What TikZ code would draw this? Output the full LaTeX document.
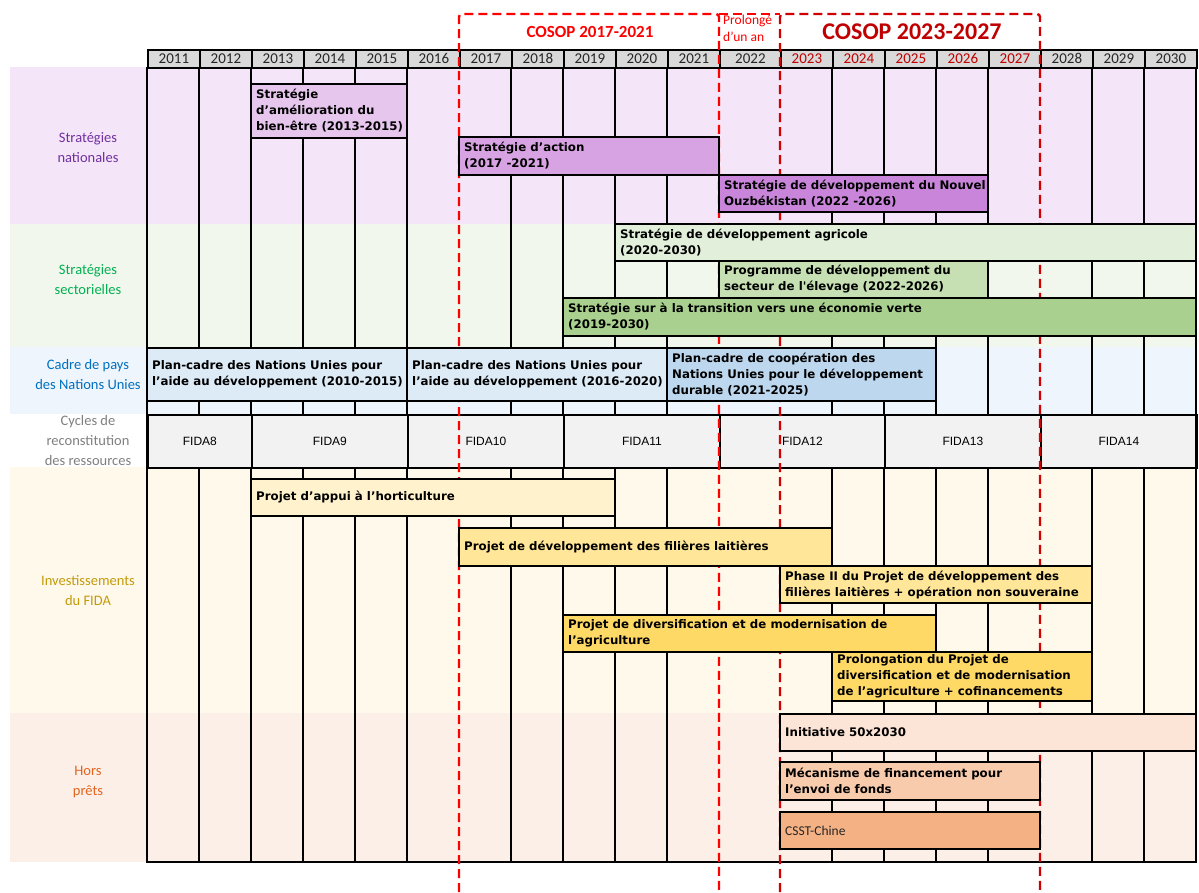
\documentclass[tikz,border=0pt]{standalone}
\usepackage{fontspec}
\setmainfont{Liberation Sans}
\newfontfamily\calfont{Carlito}
\newfontfamily\barfont{DejaVu Sans}
\definecolor{bgNat}{HTML}{F4E6F8}
\definecolor{bgSec}{HTML}{F2F7EE}
\definecolor{bgCad}{HTML}{EEF5FC}
\definecolor{bgInv}{HTML}{FFF9EC}
\definecolor{bgHors}{HTML}{FCEFE8}
\definecolor{hdr}{HTML}{D9D9D9}
\definecolor{fidaC}{HTML}{F2F2F2}
\definecolor{yrcol}{HTML}{262626}
\definecolor{yrred}{HTML}{C00000}
\definecolor{cAmel}{HTML}{E7C6EE}
\definecolor{cAction}{HTML}{D8A3E2}
\definecolor{cNouvel}{HTML}{C985DA}
\definecolor{cAgri}{HTML}{E2EFDA}
\definecolor{cElev}{HTML}{C6E0B4}
\definecolor{cVerte}{HTML}{A9D08E}
\definecolor{cPC}{HTML}{DDEBF7}
\definecolor{cPCc}{HTML}{BDD7EE}
\definecolor{cHorti}{HTML}{FFF2CC}
\definecolor{cLait}{HTML}{FFE699}
\definecolor{cDiv}{HTML}{FFD966}
\definecolor{cInit}{HTML}{FCE4D6}
\definecolor{cMeca}{HTML}{F8CBAD}
\definecolor{cCsst}{HTML}{F4B183}
\definecolor{redA}{HTML}{FF0000}
\definecolor{redC}{HTML}{D00000}
\definecolor{labNat}{HTML}{7030A0}
\definecolor{labSec}{HTML}{00B050}
\definecolor{labCad}{HTML}{0070C0}
\definecolor{labCyc}{HTML}{7F7F7F}
\definecolor{labInv}{HTML}{C49A0A}
\definecolor{labHors}{HTML}{E2641E}
\tikzset{
  barbox/.style={draw=black, line width=1.8pt, inner sep=0pt, outer sep=0pt, anchor=north west},
  bartext/.style={anchor=west, inner sep=0pt, align=left, text=black, font=\barfont\bfseries\fontsize{11.8}{16}\selectfont},
  hdrcell/.style={draw=black, line width=1.8pt, fill=hdr, inner sep=0pt, anchor=north west, minimum height=18, font=\calfont\fontsize{15}{16}\selectfont},
  fidacell/.style={draw=black, line width=1.8pt, fill=fidaC, inner sep=0pt, anchor=north west, minimum height=53, font=\fontsize{12}{14}\selectfont},
  gridline/.style={line width=1.8pt, black},
  rdash/.style={line width=2.4pt, dash pattern=on 9pt off 5pt, rounded corners=3pt},
  lab/.style={align=center, inner sep=0pt, font=\calfont\fontsize{14.5}{20}\selectfont},
}
\begin{document}
\begin{tikzpicture}[x=1pt,y=-1pt]
\useasboundingbox (0,0) rectangle (1199,892);
% band backgrounds
\fill[bgNat] (10,67) rectangle (1196,224);
\fill[bgSec] (10,224) rectangle (1196,347);
\fill[bgCad] (10,347) rectangle (1196,414);
\fill[bgInv] (10,467) rectangle (1196,713);
\fill[bgHors] (10,713) rectangle (1196,862);
% header cells
\foreach \yr/\x/\w/\c in {2011/147/52/yrcol,2012/199/52/yrcol,2013/251/52/yrcol,2014/303/52/yrcol,2015/355/52/yrcol,2016/407/52/yrcol,2017/459/52/yrcol,2018/511/52/yrcol,2019/563/52/yrcol,2020/615/52/yrcol,2021/667/52/yrcol,2022/719/61/yrcol,2023/780/52/yrred,2024/832/52/yrred,2025/884/52/yrred,2026/936/52/yrred,2027/988/52/yrred,2028/1040/52/yrcol,2029/1092/52/yrcol,2030/1144/52/yrcol}
  \node[hdrcell, minimum width=\w, text=\c] (h\yr) at (\x,49) {\yr};
% FIDA cells
\node[fidacell, minimum width=104] (f8) at (147,414) {FIDA8};
\node[fidacell, minimum width=156] (f9) at (251,414) {FIDA9};
\node[fidacell, minimum width=156] (f10) at (407,414) {FIDA10};
\node[fidacell, minimum width=156] (f11) at (563,414) {FIDA11};
\node[fidacell, minimum width=165] (f12) at (719,414) {FIDA12};
\node[fidacell, minimum width=156] (f13) at (884,414) {FIDA13};
\node[fidacell, minimum width=156] (f14) at (1040,414) {FIDA14};
% grid verticals
\foreach \x in {199,251,303,355,407,511,563,615,667,832,884,936,988,1092,1144} {
  \draw[gridline] (\x,67) -- (\x,414);
  \draw[gridline] (\x,467) -- (\x,862);
}
\draw[gridline] (147,67) -- (147,862) -- (1196,862) -- (1196,67);
% red dashed COSOP frames
\draw[rdash, redA] (459,892) -- (459,14) -- (719,14) -- (719,892);
\draw[rdash, redA] (719,14) -- (780,14);
\draw[rdash, redC] (780,892) -- (780,14) -- (1040,14) -- (1040,892);
% bars - national strategies
\node[barbox, fill=cAmel, minimum width=156, minimum height=54] (b1) at (251,84) {};
\node[bartext] (t1) at ([xshift=5pt]b1.west) {Stratégie\\d’amélioration du\\bien-être (2013-2015)};
\node[barbox, fill=cAction, minimum width=260, minimum height=38] (b2) at (459,137) {};
\node[bartext] (t2) at ([xshift=5pt]b2.west) {Stratégie d’action\\(2017 -2021)};
\node[barbox, fill=cNouvel, minimum width=269, minimum height=37] (b3) at (719,175) {};
\node[bartext] (t3) at ([xshift=5pt]b3.west) {Stratégie de développement du Nouvel\\Ouzbékistan (2022 -2026)};
% sectoral
\node[barbox, fill=cAgri, minimum width=581, minimum height=37] (b4) at (615,224) {};
\node[bartext] (t4) at ([xshift=5pt]b4.west) {Stratégie de développement agricole\\(2020-2030)};
\node[barbox, fill=cElev, minimum width=269, minimum height=37] (b5) at (719,261) {};
\node[bartext] (t5) at ([xshift=5pt]b5.west) {Programme de développement du\\secteur de l\textquotesingle élevage (2022-2026)};
\node[barbox, fill=cVerte, minimum width=633, minimum height=38] (b6) at (563,298) {};
\node[bartext] (t6) at ([xshift=5pt]b6.west) {Stratégie sur à la transition vers une économie verte\\(2019-2030)};
% UN frameworks
\node[barbox, fill=cPC, minimum width=260, minimum height=53] (b7) at (147,348) {};
\node[bartext] (t7) at ([xshift=5pt]b7.west) {Plan-cadre des Nations Unies pour\\l’aide au développement (2010-2015)};
\node[barbox, fill=cPC, minimum width=260, minimum height=53] (b8) at (407,348) {};
\node[bartext] (t8) at ([xshift=5pt]b8.west) {Plan-cadre des Nations Unies pour\\l’aide au développement (2016-2020)};
\node[barbox, fill=cPCc, minimum width=269, minimum height=53] (b9) at (667,348) {};
\node[bartext] (t9) at ([xshift=5pt]b9.west) {Plan-cadre de coopération des\\Nations Unies pour le développement\\durable (2021-2025)};
% IFAD investments
\node[barbox, fill=cHorti, minimum width=364, minimum height=37] (b10) at (251,479) {};
\node[bartext] (t10) at ([xshift=5pt]b10.west) {Projet d’appui à l’horticulture};
\node[barbox, fill=cLait, minimum width=373, minimum height=38] (b11) at (459,528) {};
\node[bartext] (t11) at ([xshift=5pt]b11.west) {Projet de développement des filières laitières};
\node[barbox, fill=cLait, minimum width=312, minimum height=37] (b12) at (780,566) {};
\node[bartext] (t12) at ([xshift=5pt]b12.west) {Phase II du Projet de développement des\\filières laitières + opération non souveraine};
\node[barbox, fill=cDiv, minimum width=373, minimum height=37] (b13) at (563,615) {};
\node[bartext] (t13) at ([xshift=5pt]b13.west) {Projet de diversification et de modernisation de\\l’agriculture};
\node[barbox, fill=cDiv, minimum width=260, minimum height=49] (b14) at (832,652) {};
\node[bartext] (t14) at ([xshift=5pt]b14.west) {Prolongation du Projet de\\diversification et de modernisation\\de l’agriculture + cofinancements};
% non-lending
\node[barbox, fill=cInit, minimum width=416, minimum height=37] (b15) at (780,714) {};
\node[bartext] (t15) at ([xshift=5pt]b15.west) {Initiative 50x2030};
\node[barbox, fill=cMeca, minimum width=260, minimum height=38] (b16) at (780,762) {};
\node[bartext] (t16) at ([xshift=5pt]b16.west) {Mécanisme de financement pour\\l’envoi de fonds};
\node[barbox, fill=cCsst, minimum width=260, minimum height=37] (b17) at (780,812) {};
\node[anchor=west, inner sep=0pt, text=yrcol, font=\calfont\fontsize{13.5}{15}\selectfont] (t17) at ([xshift=5pt]b17.west) {CSST-Chine};
% left labels
\node[lab, text=labNat] (l1) at (88,148) {Stratégies\\nationales};
\node[lab, text=labSec] (l2) at (88,280) {Stratégies\\sectorielles};
\node[lab, text=labCad] (l3) at (88,375) {Cadre de pays\\des Nations Unies};
\node[lab, text=labCyc] (l4) at (88,441) {Cycles de\\reconstitution\\des ressources};
\node[lab, text=labInv] (l5) at (88,591) {Investissements\\du FIDA};
\node[lab, text=labHors] (l6) at (88,782) {Hors\\prêts};
% top titles
\node[inner sep=0pt, text=redA, font=\calfont\bfseries\fontsize{17}{18}\selectfont] (c1) at (590,32) {COSOP 2017-2021};
\node[anchor=west, align=left, inner sep=0pt, text=redA, font=\calfont\fontsize{13.5}{17}\selectfont] (c2) at (723,28) {Prolongé\\d’un an};
\node[inner sep=0pt, text=yrred, font=\calfont\bfseries\fontsize{24}{26}\selectfont] (c3) at (912,32) {COSOP 2023-2027};
\end{tikzpicture}
\end{document}
